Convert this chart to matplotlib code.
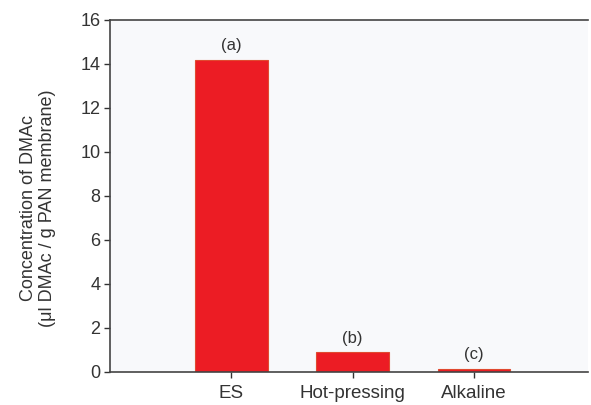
import matplotlib.pyplot as plt

plt.rcParams['font.family'] = ['Liberation Sans', 'DejaVu Sans']

categories = ["ES", "Hot-pressing", "Alkaline"]
values = [14.2, 0.9, 0.15]
labels = ["(a)", "(b)", "(c)"]

fig = plt.figure(figsize=(5.91, 4.05), dpi=100)
ax = fig.add_axes([110 / 591, 1 - 372 / 405, 478 / 591, 352 / 405])
ax.set_facecolor("#f8f9fb")

x = range(len(categories))
ax.bar(x, values, width=0.6, color="#ec1c24", edgecolor="#e04a30", linewidth=0.8, zorder=2)
for i, v in enumerate(values):
    ax.text(i, v + 0.3, labels[i], ha="center", va="bottom", fontsize=12, color="#333333")

ax.set_xlim(-1.0, 2.94)
ax.set_ylim(0, 16)
ax.set_yticks(range(0, 17, 2))
ax.set_xticks(list(x))
ax.set_xticklabels(categories)
ax.tick_params(colors="#333333", labelsize=13, length=4, width=1)
ax.tick_params(axis="x", labelsize=13.5, pad=5)
ax.tick_params(axis="y", pad=3)
ax.set_ylabel("Concentration of DMAc\n(μl DMAc / g PAN membrane)", fontsize=13,
              color="#333333", linespacing=1.2)
ax.yaxis.set_label_coords(-0.112, 0.465)
ax.spines["right"].set_visible(False)
for s in ["left", "bottom", "top"]:
    ax.spines[s].set_color("#444444")
    ax.spines[s].set_linewidth(1.2)

plt.savefig("out.png", dpi=100)
